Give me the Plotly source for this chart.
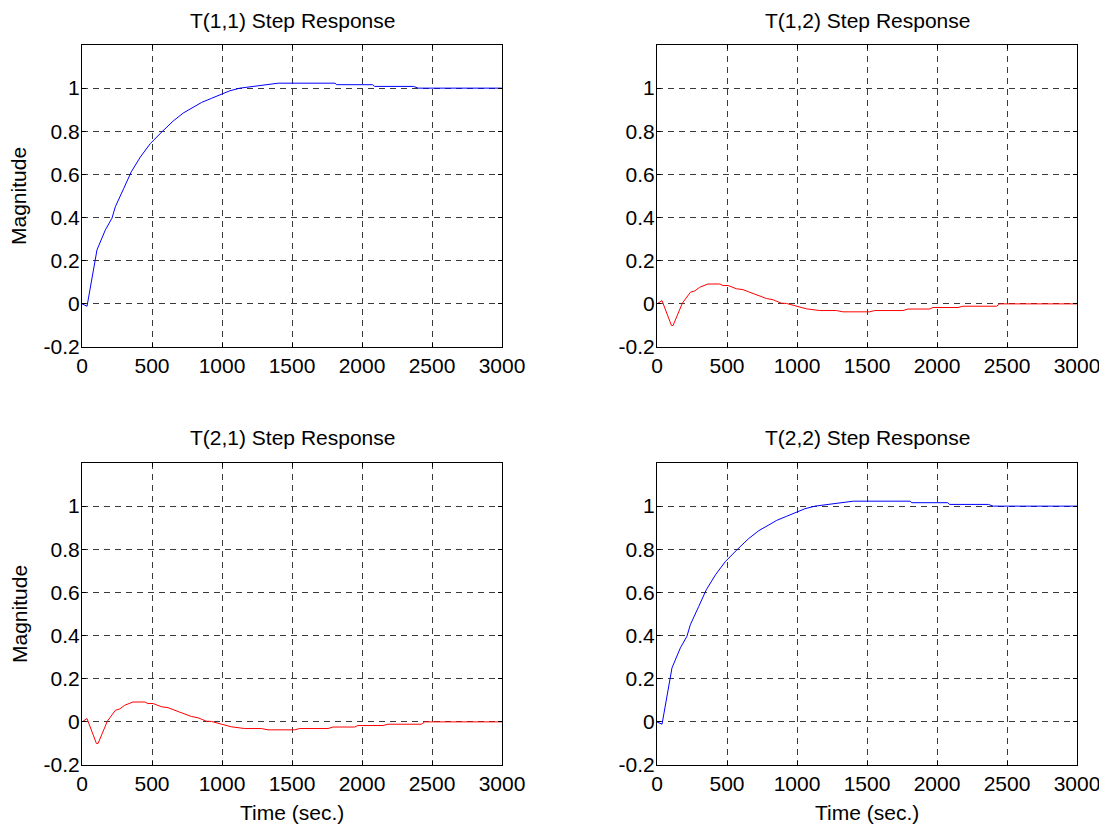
import plotly.graph_objects as go

# Time samples and step-response values
t_diag = [0, 36, 107, 167, 214, 238, 298, 352, 417, 488, 570, 652, 724, 795, 855,
          926, 998, 1057, 1129, 1200, 1259, 1402, 1807, 1820, 2076, 2090, 2367, 2402, 3000]
v_diag = [0, -0.011, 0.25, 0.343, 0.397, 0.45, 0.535, 0.612, 0.681, 0.743, 0.797,
          0.848, 0.885, 0.911, 0.934, 0.953, 0.973, 0.988, 1.0, 1.006, 1.01, 1.023,
          1.023, 1.016, 1.016, 1.008, 1.008, 1.0, 1.0]

t_off = [0, 36, 103, 115, 181, 239, 270, 305, 364, 448, 471, 508, 567, 614, 686, 781,
         829, 888, 924, 995, 1067, 1162, 1281, 1329, 1519, 1555, 1757, 1793, 1948,
         1971, 2150, 2186, 2424, 2448, 3000]
v_off = [0, 0.015, -0.10, -0.10, 0.003, 0.054, 0.06, 0.077, 0.092, 0.092, 0.085, 0.085,
         0.07, 0.066, 0.048, 0.025, 0.019, 0.003, 0.002, -0.012, -0.023, -0.031, -0.031,
         -0.037, -0.037, -0.031, -0.031, -0.024, -0.024, -0.017, -0.017, -0.011, -0.011,
         0, 0]

titles = ["T(1,1) Step Response", "T(1,2) Step Response",
          "T(2,1) Step Response", "T(2,2) Step Response"]
x_ticks = [0, 500, 1000, 1500, 2000, 2500, 3000]
y_ticks = [-0.2, 0, 0.2, 0.4, 0.6, 0.8, 1]
y_tick_labels = ["-0.2", "0", "0.2", "0.4", "0.6", "0.8", "1"]

# page body margin offset (default 8px)
OFF = 8
W, H = 1107 - OFF, 827 - OFF
FONT = "Liberation Sans, Arial, Helvetica, sans-serif"
FS = 21

# pixel geometry of plot areas in screenshot coordinates
xdom_px = [(82, 502), (657, 1077)]
ydom_px = [(45, 347), (463, 765)]

ML, MR, MT, MB = 82 - OFF, W - (1077 - OFF), 45 - OFF, H - (765 - OFF)
PW, PH = W - ML - MR, H - MT - MB


def px_x(p):
    return (p - OFF - ML) / PW


def px_y(p):
    return (H - MB - (p - OFF)) / PH


series = [(t_diag, v_diag, "#0000FF"), (t_off, v_off, "#FF0000"),
          (t_off, v_off, "#FF0000"), (t_diag, v_diag, "#0000FF")]

fig = go.Figure()
annotations = []
for i in range(4):
    r, c = divmod(i, 2)
    n = "" if i == 0 else str(i + 1)
    x0, x1 = xdom_px[c]
    y0, y1 = ydom_px[r]
    xd = [max(0, px_x(x0)), min(1, px_x(x1))]
    yd = [max(0, px_y(y1)), min(1, px_y(y0))]
    t, v, col = series[i]
    fig.add_trace(go.Scatter(x=t, y=v, mode="lines", line=dict(color=col, width=1),
                             xaxis="x" + n, yaxis="y" + n, showlegend=False,
                             hoverinfo="skip"))
    common = dict(showline=True, linecolor="black", linewidth=1, mirror="ticks",
                  ticks="inside", ticklen=4, tickcolor="black", automargin=False,
                  showgrid=True, gridcolor="#3a3a3a", gridwidth=1, griddash="6px,5px",
                  zeroline=False, tickfont=dict(family=FONT, size=FS, color="black"))
    fig.layout["xaxis" + n] = dict(domain=xd, range=[0, 3000], tickvals=x_ticks,
                                   anchor="y" + n, **common)
    fig.layout["yaxis" + n] = dict(domain=yd, range=[-0.2, 1.2], tickvals=y_ticks,
                                   ticktext=y_tick_labels, anchor="x" + n,
                                   ticklabelstandoff=-3, **common)
    annotations.append(dict(text=titles[i], xref="paper", yref="paper",
                            x=(xd[0] + xd[1]) / 2, y=yd[1], yanchor="middle",
                            xanchor="center", yshift=25, showarrow=False,
                            font=dict(family=FONT, size=FS, color="black")))
    if c == 0:
        annotations.append(dict(text="Magnitude", xref="paper", yref="paper",
                                x=px_x(19), y=(yd[0] + yd[1]) / 2, textangle=-90,
                                xanchor="center", yanchor="middle", showarrow=False,
                                borderpad=0,
                                font=dict(family=FONT, size=FS, color="black")))
    if r == 1:
        annotations.append(dict(text="Time (sec.)", xref="paper", yref="paper",
                                x=(xd[0] + xd[1]) / 2, y=px_y(812.5),
                                xanchor="center", yanchor="middle", showarrow=False,
                                font=dict(family=FONT, size=FS, color="black")))

fig.update_layout(width=W, height=H, margin=dict(l=ML, r=MR, t=MT, b=MB, pad=0),
                  paper_bgcolor="white", plot_bgcolor="white",
                  annotations=annotations, font=dict(family=FONT, size=FS))
fig.write_html("out.html")
